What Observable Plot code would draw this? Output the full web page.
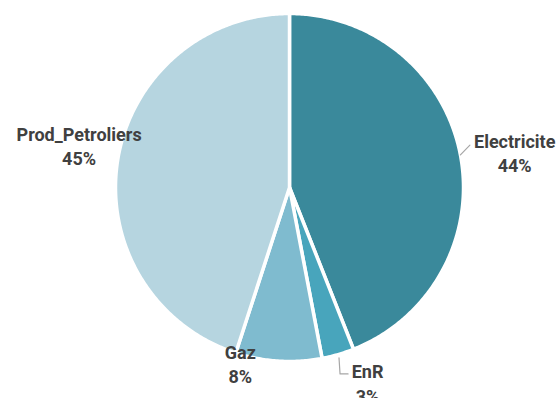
<!DOCTYPE html>
<html>
<head>
<meta charset="utf-8">
<script src="https://cdn.jsdelivr.net/npm/d3@7"></script>
<script src="https://cdn.jsdelivr.net/npm/@observablehq/plot@0.6"></script>
<style>
  html, body { margin: 0; padding: 0; background: #fff; }
  #chart svg { display: block; }
</style>
</head>
<body>
<div id="chart"></div>
<script>
// ---- data ----
const categories = ["Electricite", "EnR", "Gaz", "Prod_Petroliers"];
const shares = [44, 3, 8, 45];
const colors = ["#3a899b", "#48a5bc", "#7fbbcf", "#b6d5e0"];

const R = 174, cx = 289, cy = 187;

// ---- pie geometry (angles clockwise from 12 o'clock) ----
const pie = d3.pie().sort(null).value(d => d.share)(
  categories.map((name, i) => ({name, share: shares[i]}))
);
const polar = (r, a) => ({x: r * Math.sin(a), y: r * Math.cos(a)});

const slicePts = [];
for (const s of pie) {
  slicePts.push({name: s.data.name, ...polar(0, 0)});
  const n = Math.max(2, Math.ceil((s.endAngle - s.startAngle) / 0.01));
  for (let k = 0; k <= n; k++) {
    const a = s.startAngle + (s.endAngle - s.startAngle) * k / n;
    slicePts.push({name: s.data.name, ...polar(1, a)});
  }
}

// label placement: polar position at mid angle, plus pixel nudges
const nudge = {
  Electricite: [3, 7],
  EnR: [15, -22],
  Gaz: [-35, -50],
  Prod_Petroliers: [13, -7]
};
const labels = pie.map(s => {
  const mid = (s.startAngle + s.endAngle) / 2;
  const p = polar(1.3, mid);
  const [dx, dy] = nudge[s.data.name];
  return {
    name: s.data.name,
    text: `${s.data.name}\n${s.data.share}%`,
    x: p.x + dx / R, y: p.y - dy / R,
    mid
  };
});

// leader lines (Electricite & EnR, as in the reference)
const leaders = [];
{
  const e = labels.find(d => d.name === "Electricite");
  const a = polar(1.0, e.mid), b = polar(1.065, e.mid - 0.042);
  leaders.push({id: "e", ...a}, {id: "e", ...b});
  const r = labels.find(d => d.name === "EnR");
  const c = polar(1.02, r.mid);
  leaders.push({id: "r", ...c}, {id: "r", x: c.x + 0.006, y: c.y - 0.092}, {id: "r", x: c.x + 0.052, y: c.y - 0.092});
}

const chart = Plot.plot({
  width: 557,
  height: 398,
  margin: 0,
  style: {background: "#fff", fontFamily: "Roboto, 'Open Sans', sans-serif"},
  x: {domain: [-1, 1], range: [cx - R, cx + R], axis: null},
  y: {domain: [-1, 1], range: [cy + R, cy - R], axis: null},
  color: {domain: categories, range: colors},
  marks: [
    Plot.line(slicePts, {
      x: "x", y: "y", z: "name", fill: "name",
      stroke: "#fff", strokeWidth: 3.5, curve: "linear-closed", strokeLinejoin: "round"
    }),
    Plot.line(leaders, {x: "x", y: "y", z: "id", stroke: "#a6a6a6", strokeWidth: 1.2}),
    Plot.text(labels, {
      x: "x", y: "y",
      text: "text", fill: "#404040", fontSize: 18, fontWeight: "bold",
      lineHeight: 1.35, textAnchor: "middle", lineAnchor: "middle"
    })
  ]
});
document.getElementById("chart").appendChild(chart);
</script>
</body>
</html>
